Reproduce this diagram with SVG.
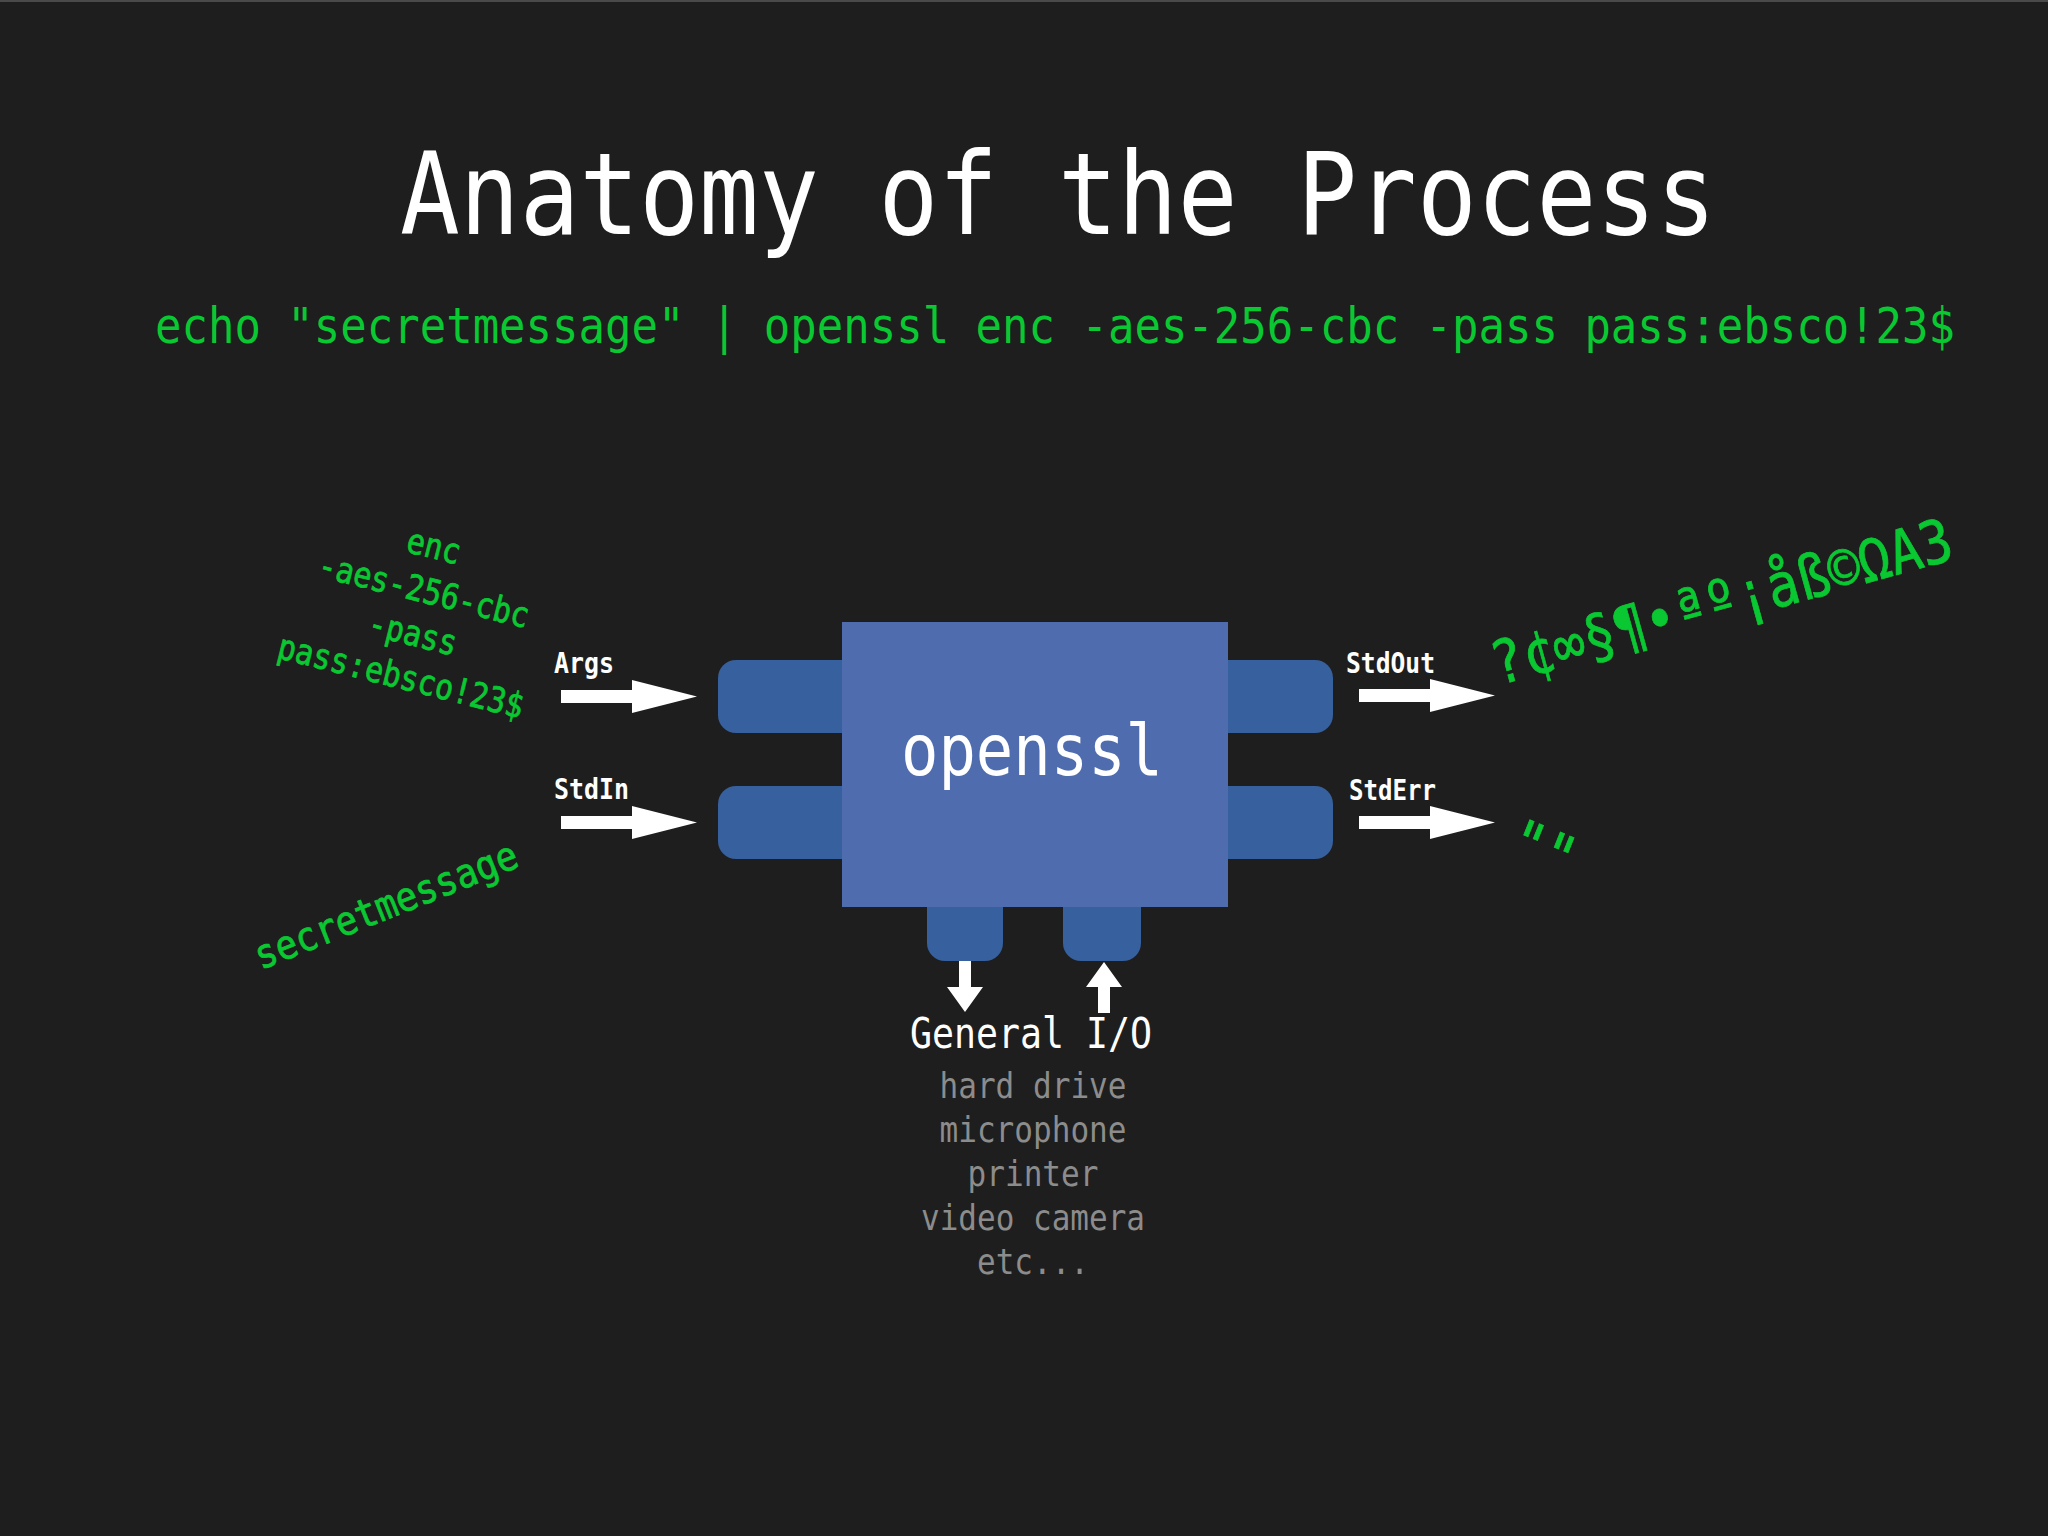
<svg xmlns="http://www.w3.org/2000/svg" xmlns:xlink="http://www.w3.org/1999/xlink" width="2048" height="1536" viewBox="0 0 2048 1536">
<defs>
<style>
.mono{font-family:"DejaVu Sans Mono","Liberation Mono",monospace}
.title{fill:#ffffff;font-size:114px}
.cmd{fill:#0ac832;font-size:50px}
.green{fill:#0ac832;stroke:#0ac832;stroke-width:0.8px}
.label{fill:#ffffff;font-size:28px;font-weight:bold}
.gray{fill:#8c8c8c;font-size:35px}
.tab{fill:#36609e}
.box{fill:#4f6dae}
.arrow{fill:#ffffff}
</style>
<path id="harr" d="M-136,-6.5 L-65,-6.5 L-65,-16.5 L0,0 L-65,16.5 L-65,6.5 L-136,6.5 Z"/>
<path id="varr" d="M-6,-51 L6,-51 L6,-25 L18,-25 L0,0 L-18,-25 L-6,-25 Z"/>
</defs>
<rect x="0" y="0" width="2048" height="1536" fill="#1e1e1e"/>
<rect x="0" y="0" width="2048" height="2" fill="#4a4a4a"/>

<g id="title">
<text class="mono title" x="1058" y="234" text-anchor="middle" textLength="1316" lengthAdjust="spacingAndGlyphs">Anatomy of the Process</text>
</g>
<g id="command">
<text class="mono cmd" x="1055" y="343" text-anchor="middle" textLength="1800" lengthAdjust="spacingAndGlyphs">echo "secretmessage" | openssl enc -aes-256-cbc -pass pass:ebsco!23$</text>
</g>

<g id="openssl">
<rect class="tab" x="718" y="660" width="160" height="73" rx="18"/>
<rect class="tab" x="718" y="786" width="160" height="73" rx="18"/>
<rect class="tab" x="1190" y="660" width="143" height="73" rx="18"/>
<rect class="tab" x="1190" y="786" width="143" height="73" rx="18"/>
<rect class="tab" x="927" y="870" width="76" height="91" rx="18"/>
<rect class="tab" x="1063" y="870" width="78" height="91" rx="18"/>
<rect class="box" x="842" y="622" width="386" height="285"/>
<text class="mono" x="1032" y="775" fill="#ffffff" font-size="71" text-anchor="middle" textLength="262" lengthAdjust="spacingAndGlyphs">openssl</text>
</g>

<g id="connectors">
<use xlink:href="#harr" class="arrow" transform="translate(697,696.5)"/>
<use xlink:href="#harr" class="arrow" transform="translate(697,822.5)"/>
<use xlink:href="#harr" class="arrow" transform="translate(1495,695.5)"/>
<use xlink:href="#harr" class="arrow" transform="translate(1495,822.5)"/>
<use xlink:href="#varr" class="arrow" transform="translate(965,1012)"/>
<use xlink:href="#varr" class="arrow" transform="translate(1104,962) rotate(180)"/>
</g>

<g id="args">
<text class="mono label" x="554" y="673" textLength="60" lengthAdjust="spacingAndGlyphs">Args</text>
<g class="mono green" font-size="35" text-anchor="middle">
<text x="431" y="558" transform="rotate(14 431 558)" textLength="54" lengthAdjust="spacingAndGlyphs">enc</text>
<text x="421" y="602" transform="rotate(14 421 602)" textLength="216" lengthAdjust="spacingAndGlyphs">-aes-256-cbc</text>
<text x="410" y="645" transform="rotate(14 410 645)" textLength="90" lengthAdjust="spacingAndGlyphs">-pass</text>
<text x="398" y="688" transform="rotate(14 398 688)" textLength="252" lengthAdjust="spacingAndGlyphs">pass:ebsco!23$</text>
</g>
</g>

<g id="stdin">
<text class="mono label" x="554" y="799" textLength="75" lengthAdjust="spacingAndGlyphs">StdIn</text>
<text class="mono green" x="391" y="918" font-size="40" text-anchor="middle" transform="rotate(-21.8 391 918)" textLength="280" lengthAdjust="spacingAndGlyphs">secretmessage</text>
</g>

<g id="stdout">
<text class="mono label" x="1346" y="673" textLength="89" lengthAdjust="spacingAndGlyphs">StdOut</text>
<text class="mono green" x="1727" y="622" font-size="60" text-anchor="middle" transform="rotate(-15.5 1727 622)" textLength="476" lengthAdjust="spacingAndGlyphs">?¢∞§¶•ªº¡åß©ΩA3</text>
</g>

<g id="stderr">
<text class="mono label" x="1349" y="800" textLength="87" lengthAdjust="spacingAndGlyphs">StdErr</text>
<text class="mono green" x="1505" y="857" font-size="60" transform="rotate(22 1505 857)" textLength="66" lengthAdjust="spacingAndGlyphs">""</text>
</g>

<g id="general-io">
<text class="mono" x="1031" y="1048" fill="#ffffff" font-size="42" text-anchor="middle" textLength="242" lengthAdjust="spacingAndGlyphs">General I/O</text>
<g class="mono gray" text-anchor="middle">
<text x="1033" y="1098" textLength="187" lengthAdjust="spacingAndGlyphs">hard drive</text>
<text x="1033" y="1142" textLength="187" lengthAdjust="spacingAndGlyphs">microphone</text>
<text x="1033" y="1186" textLength="131" lengthAdjust="spacingAndGlyphs">printer</text>
<text x="1033" y="1230" textLength="224" lengthAdjust="spacingAndGlyphs">video camera</text>
<text x="1033" y="1274" textLength="112" lengthAdjust="spacingAndGlyphs">etc...</text>
</g>
</g>
</svg>
